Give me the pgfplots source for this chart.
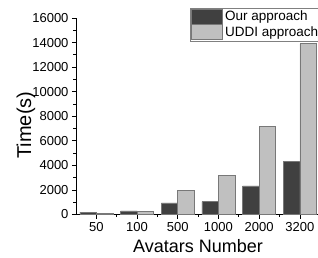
\documentclass[border=0pt]{standalone}
\usepackage{pgfplots}
\pgfplotsset{compat=1.18}
\usepackage{fontspec}
\setmainfont{Liberation Sans}
\definecolor{darkbar}{RGB}{64,64,64}
\definecolor{lightbar}{RGB}{192,192,192}
\definecolor{edge}{RGB}{120,120,120}
\begin{document}
\begin{tikzpicture}
\useasboundingbox (-76pt,-42.5pt) rectangle (242pt,214.5pt);
\begin{axis}[
  at={(0pt,0pt)}, anchor=south west,
  scale only axis, width=244.2pt, height=196.5pt,
  ybar=0pt, bar width=16.5pt,
  xmin=-0.5, xmax=5.5, ymin=0, ymax=16000,
  xtick={0,...,5}, xticklabels={50,100,500,1000,2000,3200},
  minor x tick num=1,
  ytick={0,2000,...,16000}, minor y tick num=1,
  axis x line*=bottom, axis y line*=left,
  axis line style={line width=0.8pt, -},
  tick align=outside,
  major tick length=4pt, minor tick length=2.5pt,
  tick style={line width=0.7pt, black},
  /pgf/number format/assume math mode=true,
  /pgf/number format/1000 sep={},
  scaled y ticks=false,
  tick label style={font=\fontsize{13}{15}\selectfont},
  xlabel={Avatars Number},
  ylabel={Time(s)},
  xlabel style={font=\fontsize{18}{20}\selectfont, at={(axis description cs:0.5,0)}, anchor=north, yshift=-21pt},
  ylabel style={font=\fontsize{20}{22}\selectfont, at={(axis description cs:-0.205,0.455)}, anchor=center},
  legend style={at={(axis description cs:1.005,1.053)}, anchor=north east,
    draw=gray, line width=0.6pt, inner sep=1pt, row sep=0pt,
    font=\fontsize{13.5}{15}\selectfont,
    cells={anchor=west},
    /tikz/every even column/.append style={column sep=3pt}},
  legend image code/.code={\draw[#1, line width=0.6pt] (0pt,-7.5pt) rectangle (31pt,7.5pt);},
]
\addplot[fill=darkbar, draw=edge, line width=0.6pt] coordinates {(0,200)(1,300)(2,950)(3,1050)(4,2330)(5,4300)};
\addplot[fill=lightbar, draw=edge, line width=0.6pt] coordinates {(0,110)(1,220)(2,1930)(3,3200)(4,7200)(5,13900)};
\legend{Our approach, UDDI approach}
\end{axis}
\end{tikzpicture}
\end{document}
